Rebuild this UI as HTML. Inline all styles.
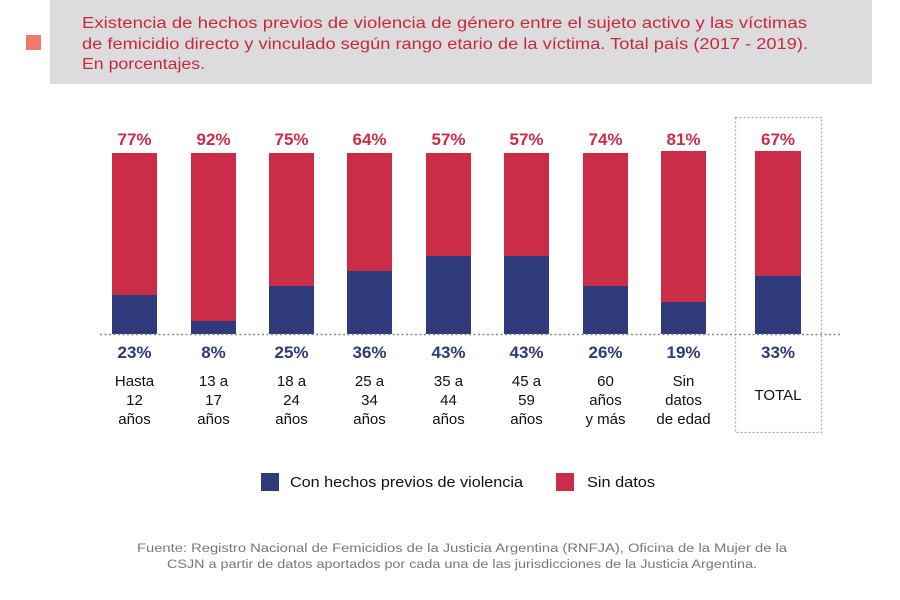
<!DOCTYPE html>
<html><head><meta charset="utf-8"><style>
html,body{margin:0;padding:0;background:#fff;}
svg{display:block;font-family:"Liberation Sans",sans-serif;}
</style></head><body>
<svg width="900" height="600" viewBox="0 0 900 600" xmlns="http://www.w3.org/2000/svg">
<rect x="0" y="0" width="900" height="600" fill="#fff"/>
<rect x="50" y="0" width="822" height="84" fill="#dcdcde"/>
<rect x="26" y="35" width="15" height="15" fill="#f07a6a"/>
<g fill="#c8283c" font-size="15.5">
<text x="82" y="28" textLength="725" lengthAdjust="spacingAndGlyphs">Existencia de hechos previos de violencia de género entre el sujeto activo y las víctimas</text>
<text x="82" y="49" textLength="726" lengthAdjust="spacingAndGlyphs">de femicidio directo y vinculado según rango etario de la víctima. Total país (2017 - 2019).</text>
<text x="82" y="69" textLength="123" lengthAdjust="spacingAndGlyphs">En porcentajes.</text>
</g>
<rect x="735.5" y="117.5" width="86" height="315" fill="none" stroke="#aaa" stroke-width="1.3" stroke-dasharray="2,2"/>
<g id="bars">
<rect x="112" y="153" width="45" height="181" fill="#cb2d48"/><rect x="112" y="295" width="45" height="39" fill="#2e3a7c"/>
<rect x="191" y="153" width="45" height="181" fill="#cb2d48"/><rect x="191" y="321" width="45" height="13" fill="#2e3a7c"/>
<rect x="269" y="153" width="45" height="181" fill="#cb2d48"/><rect x="269" y="286" width="45" height="48" fill="#2e3a7c"/>
<rect x="347" y="153" width="45" height="181" fill="#cb2d48"/><rect x="347" y="271" width="45" height="63" fill="#2e3a7c"/>
<rect x="426" y="153" width="45" height="181" fill="#cb2d48"/><rect x="426" y="256" width="45" height="78" fill="#2e3a7c"/>
<rect x="504" y="153" width="45" height="181" fill="#cb2d48"/><rect x="504" y="256" width="45" height="78" fill="#2e3a7c"/>
<rect x="583" y="153" width="45" height="181" fill="#cb2d48"/><rect x="583" y="286" width="45" height="48" fill="#2e3a7c"/>
<rect x="661" y="151" width="45" height="183" fill="#cb2d48"/><rect x="661" y="302" width="45" height="32" fill="#2e3a7c"/>
<rect x="755" y="151" width="46" height="183" fill="#cb2d48"/><rect x="755" y="276" width="46" height="58" fill="#2e3a7c"/>
</g>
<line x1="100" y1="334.5" x2="840" y2="334.5" stroke="#888" stroke-width="1.5" stroke-dasharray="2,2.5"/>
<g font-size="17" font-weight="bold" text-anchor="middle" fill="#cb2d48">
<text x="134.5" y="145">77%</text><text x="213.5" y="145">92%</text><text x="291.5" y="145">75%</text>
<text x="369.5" y="145">64%</text><text x="448.5" y="145">57%</text><text x="526.5" y="145">57%</text>
<text x="605.5" y="145">74%</text><text x="683.5" y="145">81%</text><text x="778" y="145">67%</text>
</g>
<g font-size="17" font-weight="bold" text-anchor="middle" fill="#2e3a7c">
<text x="134.5" y="358">23%</text><text x="213.5" y="358">8%</text><text x="291.5" y="358">25%</text>
<text x="369.5" y="358">36%</text><text x="448.5" y="358">43%</text><text x="526.5" y="358">43%</text>
<text x="605.5" y="358">26%</text><text x="683.5" y="358">19%</text><text x="778" y="358">33%</text>
</g>
<g font-size="15" text-anchor="middle" fill="#111">
<text x="134.5" y="386">Hasta</text><text x="134.5" y="405">12</text><text x="134.5" y="424">años</text>
<text x="213.5" y="386">13 a</text><text x="213.5" y="405">17</text><text x="213.5" y="424">años</text>
<text x="291.5" y="386">18 a</text><text x="291.5" y="405">24</text><text x="291.5" y="424">años</text>
<text x="369.5" y="386">25 a</text><text x="369.5" y="405">34</text><text x="369.5" y="424">años</text>
<text x="448.5" y="386">35 a</text><text x="448.5" y="405">44</text><text x="448.5" y="424">años</text>
<text x="526.5" y="386">45 a</text><text x="526.5" y="405">59</text><text x="526.5" y="424">años</text>
<text x="605.5" y="386">60</text><text x="605.5" y="405">años</text><text x="605.5" y="424">y más</text>
<text x="683.5" y="386">Sin</text><text x="683.5" y="405">datos</text><text x="683.5" y="424">de edad</text>
<text x="778" y="400">TOTAL</text>
</g>
<rect x="261" y="473" width="18" height="18" fill="#2e3a7c"/>
<text x="290" y="487" font-size="15" fill="#111" textLength="233" lengthAdjust="spacingAndGlyphs">Con hechos previos de violencia</text>
<rect x="556" y="473" width="18" height="18" fill="#cb2d48"/>
<text x="587" y="487" font-size="15" fill="#111" textLength="68" lengthAdjust="spacingAndGlyphs">Sin datos</text>
<g font-size="11.5" fill="#777" text-anchor="middle">
<text x="462" y="552" textLength="650" lengthAdjust="spacingAndGlyphs">Fuente: Registro Nacional de Femicidios de la Justicia Argentina (RNFJA), Oficina de la Mujer de la</text>
<text x="462" y="568" textLength="590" lengthAdjust="spacingAndGlyphs">CSJN a partir de datos aportados por cada una de las jurisdicciones de la Justicia Argentina.</text>
</g>
</svg>
</body></html>
